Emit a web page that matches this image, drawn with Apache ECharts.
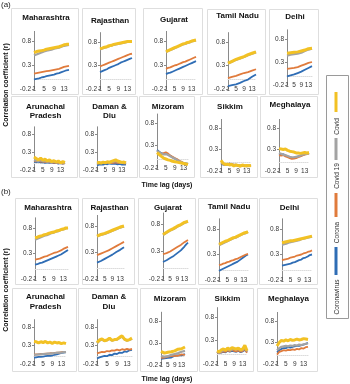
<!DOCTYPE html>
<html><head><meta charset="utf-8">
<script src="https://cdn.jsdelivr.net/npm/echarts@6/dist/echarts.min.js"></script>
<style>html,body{margin:0;padding:0;background:#fff}#c{width:350px;height:384px}</style>
</head><body><div id="c"></div>
<script>
// ---------- data ----------
const lags = ['1','2','3','4','5','6','7','8','9','10','11','12','13','14','15'];
const xTickLabels = ['1','5','9','13'];
const yTickValues = [-0.2, 0.3, 0.8];
const seriesNames = ['Covid', 'Covid 19', 'Corona', 'Coronavirus'];
const stateTitles = ['Maharashtra','Rajasthan','Gujarat','Tamil Nadu','Delhi','Arunachal\nPradesh','Daman &\nDiu','Mizoram','Sikkim','Meghalaya'];

// panel (a): each array = [Covid, Covid 19, Corona, Coronavirus]
const a_Maharashtra = [
  [0.56,0.58,0.59,0.60,0.61,0.63,0.64,0.65,0.66,0.67,0.68,0.70,0.72,0.73,0.73],
  [0.50,0.52,0.54,0.56,0.58,0.60,0.61,0.62,0.64,0.65,0.66,0.68,0.70,0.71,0.72],
  [0.12,0.13,0.14,0.15,0.16,0.17,0.18,0.19,0.20,0.21,0.22,0.24,0.26,0.27,0.28],
  [0.00,0.01,0.02,0.04,0.05,0.07,0.08,0.09,0.10,0.12,0.13,0.15,0.17,0.19,0.20]];
const a_Rajasthan = [
  [0.66,0.67,0.69,0.70,0.72,0.73,0.75,0.76,0.77,0.78,0.79,0.80,0.81,0.81,0.81],
  [0.64,0.66,0.68,0.69,0.71,0.72,0.74,0.75,0.76,0.77,0.78,0.79,0.80,0.80,0.80],
  [0.28,0.30,0.32,0.34,0.36,0.38,0.40,0.42,0.44,0.46,0.48,0.50,0.52,0.54,0.55],
  [0.16,0.18,0.20,0.22,0.25,0.27,0.29,0.31,0.33,0.36,0.38,0.40,0.42,0.44,0.46]];
const a_Gujarat = [
  [0.58,0.60,0.62,0.64,0.66,0.68,0.70,0.72,0.74,0.75,0.77,0.78,0.80,0.81,0.82],
  [0.57,0.59,0.61,0.63,0.65,0.67,0.69,0.71,0.73,0.74,0.76,0.77,0.79,0.80,0.81],
  [0.22,0.24,0.25,0.27,0.29,0.30,0.32,0.34,0.36,0.37,0.39,0.41,0.43,0.45,0.47],
  [0.11,0.13,0.14,0.16,0.18,0.20,0.22,0.24,0.26,0.28,0.30,0.32,0.34,0.36,0.38]];
const a_TamilNadu = [
  [0.35,0.37,0.39,0.41,0.43,0.45,0.46,0.48,0.49,0.51,0.53,0.55,0.56,0.58,0.59],
  [0.34,0.36,0.38,0.40,0.42,0.44,0.45,0.47,0.48,0.50,0.52,0.54,0.55,0.57,0.58],
  [0.03,0.04,0.06,0.07,0.08,0.10,0.11,0.12,0.14,0.15,0.16,0.18,0.19,0.21,0.22],
  [-0.14,-0.13,-0.12,-0.11,-0.10,-0.08,-0.07,-0.05,-0.03,-0.02,0.00,0.03,0.06,0.09,0.11]];
const a_Delhi = [
  [0.49,0.50,0.50,0.51,0.51,0.52,0.52,0.53,0.54,0.55,0.56,0.58,0.59,0.60,0.60],
  [0.44,0.45,0.46,0.46,0.47,0.48,0.48,0.49,0.50,0.52,0.54,0.56,0.57,0.58,0.59],
  [0.15,0.15,0.16,0.16,0.17,0.18,0.19,0.21,0.22,0.23,0.25,0.26,0.28,0.29,0.30],
  [-0.01,0.00,0.01,0.02,0.03,0.05,0.06,0.08,0.09,0.11,0.13,0.15,0.17,0.19,0.21]];
const a_Arunachal = [
  [0.16,0.12,0.08,0.13,0.07,0.10,0.05,0.08,0.03,0.06,0.02,0.05,0.00,0.03,0.01],
  [0.08,0.06,0.05,0.07,0.04,0.05,0.03,0.04,0.02,0.03,0.01,0.02,0.00,0.01,0.00],
  [0.06,0.04,0.05,0.03,0.04,0.02,0.03,0.01,0.02,0.00,0.01,-0.01,0.00,-0.02,-0.01],
  [0.03,0.02,0.03,0.01,0.02,0.00,0.01,0.00,0.01,-0.01,0.00,-0.02,-0.01,-0.02,-0.01]];
const a_DamanDiu = [
  [0.00,0.01,-0.01,0.02,0.00,0.03,0.01,0.04,0.06,0.08,0.05,0.03,0.01,0.02,0.00],
  [-0.02,0.00,-0.01,0.01,0.00,0.02,0.00,0.02,0.03,0.05,0.03,0.01,0.00,0.01,0.00],
  [-0.02,-0.01,0.00,-0.01,0.01,0.00,0.01,-0.01,0.00,0.01,0.00,-0.01,0.00,-0.02,-0.01],
  [-0.07,-0.05,-0.04,-0.05,-0.03,-0.04,-0.02,-0.03,-0.02,-0.03,-0.04,-0.03,-0.05,-0.04,-0.05]];
const a_Mizoram = [
  [0.14,0.10,0.06,0.02,0.00,-0.02,-0.03,-0.05,-0.06,-0.07,-0.08,-0.09,-0.10,-0.11,-0.12],
  [0.18,0.15,0.12,0.10,0.11,0.09,0.06,0.03,0.01,-0.02,-0.05,-0.07,-0.09,-0.10,-0.11],
  [0.17,0.14,0.11,0.13,0.15,0.12,0.08,0.05,0.02,0.00,-0.04,-0.06,-0.09,-0.11,-0.12],
  [0.20,0.16,0.13,0.11,0.12,0.10,0.07,0.04,0.01,-0.02,-0.05,-0.07,-0.09,-0.10,-0.11]];
const a_Sikkim = [
  [0.05,-0.02,-0.05,-0.04,-0.06,-0.05,-0.08,-0.06,-0.07,-0.09,-0.06,-0.08,-0.07,-0.08,-0.07],
  [0.00,-0.03,-0.05,-0.06,-0.05,-0.04,-0.06,-0.07,-0.06,-0.08,-0.07,-0.07,-0.08,-0.07,-0.08],
  [-0.02,-0.04,-0.06,-0.05,-0.03,-0.04,-0.05,-0.06,-0.08,-0.07,-0.08,-0.09,-0.08,-0.07,-0.08],
  [-0.03,-0.05,-0.06,-0.04,-0.03,-0.05,-0.06,-0.05,-0.07,-0.08,-0.07,-0.08,-0.09,-0.08,-0.08]];
const a_Meghalaya = [
  [0.32,0.31,0.30,0.31,0.28,0.26,0.25,0.24,0.22,0.22,0.21,0.22,0.23,0.22,0.23],
  [0.22,0.20,0.18,0.17,0.15,0.13,0.12,0.12,0.13,0.14,0.16,0.18,0.19,0.20,0.21],
  [0.17,0.16,0.17,0.14,0.12,0.10,0.08,0.09,0.10,0.12,0.14,0.16,0.18,0.19,0.21],
  [0.19,0.18,0.19,0.16,0.14,0.12,0.10,0.11,0.12,0.14,0.15,0.17,0.19,0.20,0.22]];

// panel (b)
const b_Maharashtra = [
  [0.61,0.62,0.64,0.65,0.67,0.68,0.70,0.71,0.72,0.74,0.75,0.77,0.78,0.80,0.80],
  [0.57,0.59,0.61,0.63,0.65,0.66,0.68,0.70,0.71,0.73,0.74,0.76,0.77,0.79,0.80],
  [0.18,0.19,0.20,0.22,0.24,0.25,0.27,0.29,0.31,0.32,0.34,0.36,0.39,0.41,0.43],
  [0.08,0.09,0.11,0.12,0.14,0.16,0.18,0.20,0.22,0.24,0.26,0.28,0.31,0.34,0.37]];
const b_Rajasthan = [
  [0.61,0.62,0.64,0.65,0.66,0.68,0.69,0.71,0.72,0.73,0.75,0.76,0.78,0.79,0.80],
  [0.60,0.61,0.63,0.64,0.65,0.67,0.68,0.70,0.71,0.72,0.74,0.75,0.77,0.78,0.79],
  [0.25,0.26,0.28,0.29,0.31,0.32,0.34,0.36,0.38,0.40,0.42,0.44,0.46,0.48,0.50],
  [0.11,0.13,0.14,0.16,0.18,0.20,0.22,0.24,0.26,0.29,0.31,0.33,0.35,0.38,0.40]];
const b_Gujarat = [
  [0.61,0.63,0.65,0.67,0.69,0.70,0.72,0.74,0.76,0.77,0.79,0.81,0.83,0.84,0.85],
  [0.60,0.62,0.64,0.66,0.68,0.69,0.71,0.73,0.75,0.76,0.78,0.80,0.82,0.83,0.84],
  [0.25,0.26,0.27,0.29,0.30,0.32,0.34,0.36,0.38,0.40,0.42,0.44,0.47,0.49,0.51],
  [0.11,0.13,0.14,0.16,0.18,0.20,0.22,0.24,0.27,0.29,0.32,0.35,0.39,0.43,0.46]];
const b_TamilNadu = [
  [0.50,0.52,0.54,0.56,0.57,0.59,0.61,0.63,0.64,0.66,0.68,0.70,0.72,0.73,0.75],
  [0.48,0.50,0.52,0.54,0.56,0.58,0.60,0.62,0.63,0.65,0.67,0.69,0.71,0.72,0.74],
  [0.09,0.10,0.12,0.13,0.15,0.16,0.18,0.19,0.21,0.22,0.24,0.26,0.28,0.30,0.31],
  [-0.02,0.00,0.02,0.04,0.06,0.08,0.10,0.12,0.14,0.16,0.19,0.22,0.25,0.28,0.30]];
const b_Delhi = [
  [0.53,0.54,0.55,0.56,0.57,0.57,0.58,0.59,0.60,0.61,0.62,0.63,0.64,0.65,0.66],
  [0.49,0.50,0.51,0.53,0.54,0.55,0.56,0.57,0.58,0.60,0.61,0.62,0.63,0.64,0.65],
  [0.19,0.20,0.21,0.22,0.24,0.25,0.26,0.28,0.29,0.30,0.32,0.33,0.35,0.36,0.38],
  [0.08,0.09,0.10,0.11,0.12,0.14,0.15,0.17,0.19,0.20,0.23,0.24,0.26,0.29,0.30]];
const b_Arunachal = [
  [0.41,0.40,0.37,0.40,0.38,0.41,0.37,0.39,0.36,0.39,0.37,0.38,0.35,0.37,0.35],
  [0.05,0.05,0.06,0.06,0.07,0.07,0.08,0.08,0.09,0.09,0.10,0.11,0.11,0.12,0.12],
  [0.05,0.06,0.06,0.07,0.07,0.08,0.08,0.09,0.09,0.10,0.11,0.11,0.12,0.13,0.13],
  [-0.03,-0.02,-0.01,-0.01,0.00,0.01,0.02,0.02,0.03,0.05,0.06,0.08,0.10,0.11,0.12]];
const b_DamanDiu = [
  [0.38,0.45,0.48,0.43,0.45,0.50,0.44,0.46,0.47,0.52,0.56,0.47,0.44,0.46,0.50],
  [0.36,0.43,0.46,0.42,0.44,0.48,0.43,0.45,0.46,0.50,0.54,0.46,0.43,0.45,0.48],
  [0.09,0.11,0.13,0.12,0.15,0.14,0.17,0.16,0.19,0.17,0.20,0.18,0.21,0.19,0.21],
  [-0.05,-0.02,0.00,0.02,0.01,0.05,0.04,0.08,0.07,0.11,0.10,0.14,0.13,0.17,0.18]];
const b_Mizoram = [
  [0.11,0.08,0.07,0.10,0.09,0.12,0.10,0.13,0.12,0.15,0.16,0.18,0.17,0.20,0.21],
  [0.00,-0.02,-0.01,0.01,0.00,0.02,0.03,0.04,0.05,0.06,0.07,0.09,0.10,0.11,0.12],
  [-0.04,-0.05,-0.03,-0.04,-0.01,-0.03,0.00,-0.01,0.01,0.02,0.01,0.03,0.04,0.02,0.03],
  [-0.06,-0.04,-0.05,-0.02,-0.04,-0.01,-0.03,0.00,0.01,-0.01,0.02,0.03,0.02,0.04,0.05]];
const b_Sikkim = [
  [0.08,0.06,0.10,0.12,0.09,0.14,0.11,0.15,0.13,0.12,0.14,0.10,0.12,0.20,0.08],
  [0.06,0.04,0.07,0.09,0.10,0.12,0.09,0.11,0.13,0.11,0.12,0.09,0.10,0.15,0.07],
  [0.05,0.03,0.05,0.07,0.06,0.09,0.07,0.10,0.08,0.07,0.09,0.06,0.08,0.12,0.04],
  [0.06,0.04,0.04,0.06,0.05,0.08,0.06,0.08,0.07,0.06,0.08,0.05,0.07,0.10,0.05]];
const b_Meghalaya = [
  [0.22,0.30,0.35,0.33,0.36,0.34,0.37,0.35,0.36,0.38,0.36,0.37,0.39,0.38,0.37],
  [0.12,0.17,0.20,0.21,0.22,0.21,0.23,0.22,0.24,0.23,0.25,0.24,0.26,0.27,0.28],
  [0.02,0.08,0.10,0.12,0.11,0.13,0.12,0.14,0.13,0.15,0.14,0.17,0.16,0.19,0.20],
  [0.07,0.12,0.15,0.17,0.17,0.19,0.18,0.20,0.21,0.22,0.22,0.24,0.25,0.27,0.29]];

const panelA = [a_Maharashtra,a_Rajasthan,a_Gujarat,a_TamilNadu,a_Delhi,a_Arunachal,a_DamanDiu,a_Mizoram,a_Sikkim,a_Meghalaya];
const panelB = [b_Maharashtra,b_Rajasthan,b_Gujarat,b_TamilNadu,b_Delhi,b_Arunachal,b_DamanDiu,b_Mizoram,b_Sikkim,b_Meghalaya];

// ---------- layout & style ----------
// [boxX0, boxY0, boxX1, boxY1, gridLeft, gridRight, yPixelAt0.8, yPixelAt-0.2, titleY]
const LAYOUT = [
  [11,8,78,94, 34,69, 41,89, 18],
  [82,8,135,94, 100,132, 42,89, 21],
  [143,8,202,94, 166,196, 41,89, 20],
  [207,9,265,94, 228,256, 42,89, 16],
  [269,9,318,94, 287,312, 39,85, 17],
  [11,96,77,177, 34,65, 134,170, 111.5],
  [79,96,137,177, 97,126, 134,170, 111.5],
  [139,96,194,177, 157,188, 123,168, 107],
  [200,96,257,177, 221,251, 128,171, 107],
  [260,96,317,177, 279,309, 128,171, 105],
  [15,198,78,284, 35,68, 228,279, 208],
  [82,198,134,284, 97,124, 226,279, 208],
  [138,198,195,284, 163,188, 224,279, 208],
  [198,198,257,284, 219,248, 229,280, 207],
  [259,198,317,284, 282,312, 229,280, 208],
  [12,288,76,371, 34,66, 327,364, 302],
  [78,288,137,371, 97,132, 327,364, 302],
  [140,288,197,371, 161,185, 321,365, 299],
  [199,288,253,371, 217,247, 317,364, 299],
  [257,288,317,371, 277,308, 321,364, 299]
];
const COLORS = ['#F2C124', '#A3A3A3', '#E07B3C', '#2F6DB5'];
const WIDTHS = [3.0, 2.2, 1.8, 1.8];
const FONT = "'Liberation Sans', Arial, sans-serif";

const grids = [], xAxes = [], yAxes = [], series = [], graphics = [];
const allPanels = panelA.concat(panelB);
allPanels.forEach((panel, i) => {
  const [bx0, by0, bx1, by1, gl, gr, y08, ym02, ty] = LAYOUT[i];
  const ppu = (ym02 - y08) / 1.0;
  const top = ym02 - 1.2 * ppu;
  grids.push({ left: gl, top: top, width: gr - gl, height: ym02 - top, outerBoundsMode: 'none' });
  xAxes.push({
    type: 'category', gridIndex: i, data: lags, boundaryGap: false,
    axisLine: { show: true, lineStyle: { color: '#dcdcdc', width: 1, type: 'dotted' } },
    axisTick: { show: false },
    axisLabel: { interval: (idx, v) => xTickLabels.includes(v), fontSize: 6.5, color: '#333', fontFamily: FONT, margin: -3 },
    splitLine: { show: false }
  });
  yAxes.push({
    type: 'value', gridIndex: i, min: -0.2, max: 1.0,
    axisLine: { show: true, lineStyle: { color: '#8a8a8a', width: 1 } },
    axisTick: { show: true, length: 2, customValues: yTickValues, lineStyle: { color: '#8a8a8a' } },
    axisLabel: { customValues: yTickValues, fontSize: 6.5, color: '#333', fontFamily: FONT, margin: 3,
      formatter: v => (Math.round(v * 10) / 10).toFixed(1) },
    splitLine: { show: false }
  });
  // draw order: Coronavirus, Corona, Covid 19, Covid (yellow on top)
  [3, 2, 1, 0].forEach(k => {
    series.push({
      name: seriesNames[k], type: 'line', xAxisIndex: i, yAxisIndex: i,
      data: panel[k], showSymbol: false, symbol: 'none', silent: true,
      lineStyle: { color: COLORS[k], width: WIDTHS[k] }, itemStyle: { color: COLORS[k] }
    });
  });
  graphics.push({ type: 'rect', z: -10, silent: true,
    shape: { x: bx0 + 0.5, y: by0 + 0.5, width: bx1 - bx0, height: by1 - by0 },
    style: { fill: '#fff', stroke: '#dedede', lineWidth: 1 } });
  graphics.push({ type: 'text', x: (bx0 + bx1) / 2 + 1.5, y: ty, silent: true,
    style: { text: stateTitles[i % 10], align: 'center', verticalAlign: 'middle',
      fontSize: 8, fontWeight: 'bold', fontFamily: FONT, fill: '#111', lineHeight: 9.5 } });
});

// panel labels and axis titles
graphics.push({ type: 'text', x: 1, y: 5, style: { text: '(a)', verticalAlign: 'middle', fontSize: 8, fontFamily: FONT, fill: '#222' } });
graphics.push({ type: 'text', x: 1, y: 192, style: { text: '(b)', verticalAlign: 'middle', fontSize: 8, fontFamily: FONT, fill: '#222' } });
[185, 379].forEach(y => graphics.push({ type: 'text', x: 167, y: y,
  style: { text: 'Time lag (days)', align: 'center', verticalAlign: 'middle', fontSize: 7, fontWeight: 'bold', fontFamily: FONT, fill: '#111' } }));
[85, 290].forEach(y => graphics.push({ type: 'text', x: 6, y: y, rotation: Math.PI / 2,
  style: { text: 'Correlation coefficient (r)', align: 'center', verticalAlign: 'middle', fontSize: 7, fontWeight: 'bold', fontFamily: FONT, fill: '#111' } }));

// legend (vertical, rotated labels)
graphics.push({ type: 'rect', shape: { x: 326.5, y: 75.5, width: 22, height: 243 },
  style: { fill: '#fff', stroke: '#9a9a9a', lineWidth: 1 } });
const LEG = [[92, 112, 126.5], [138, 160, 176], [193, 217, 232.5], [247, 275, 297]];
LEG.forEach((e, k) => {
  graphics.push({ type: 'line', shape: { x1: 336, y1: e[0], x2: 336, y2: e[1] },
    style: { stroke: COLORS[k], lineWidth: 3 } });
  graphics.push({ type: 'text', x: 337, y: e[2], rotation: Math.PI / 2,
    style: { text: seriesNames[k], align: 'center', verticalAlign: 'middle', fontSize: 6.5, fontFamily: FONT, fill: '#333' } });
});

const chart = echarts.init(document.getElementById('c'), null, { renderer: 'canvas' });
chart.setOption({
  animation: false,
  backgroundColor: '#fff',
  grid: grids, xAxis: xAxes, yAxis: yAxes, series: series,
  graphic: { elements: graphics }
});
</script>
</body></html>
